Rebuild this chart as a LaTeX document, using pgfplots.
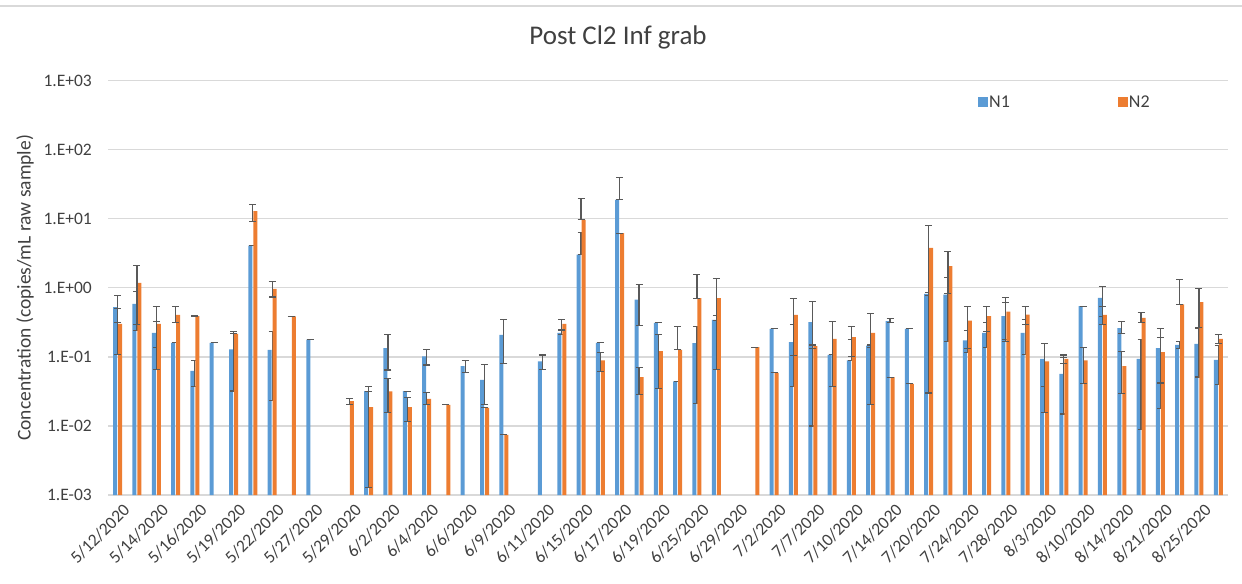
\documentclass[border=0pt]{standalone}
\usepackage{pgfplots}
\usepackage{pgfplotstable}
\usepackage{fontspec}
\setmainfont{Carlito}
\pgfplotsset{compat=1.18}
\definecolor{nblue}{RGB}{91,155,213}
\definecolor{norange}{RGB}{237,125,49}
\definecolor{errgray}{RGB}{89,89,89}
\definecolor{gridgray}{RGB}{217,217,217}
\definecolor{txtgray}{RGB}{64,64,64}
\pgfplotstableread{
x  n1     n1p    n1m    n2      n2p    n2m
0  0.525  0.25   0.21   0.301   0.196  0.193
1  0.586  0.31   0.345  1.181   0.925  0.887
2  0.223  0.103  0.085  0.301   0.242  0.236
3  0.160  0      0      0.406   0.137  0.095
4  0.0629 0.025  0.026  0.389   0.005  0.005
5  0.160  0      0      nan     0      0
6  0.128  0.105  0.096  0.216   0      0
7  4.10   0      0      12.88   3.2    3.65
8  0.1265 0.106  0.103  0.967   0.27   0.23
9  nan    0      0      0.385   0      0
10 0.1786 0      0      nan     0      0
11 nan    0      0      nan     0      0
12 nan    0      0      0.0229  0.002  0.0024
13 0.0319 0      0      0.0187  0.0186 0.0174
14 0.1337 0.075  0.069  0.0316  0.0165 0.0158
15 0.0319 0      0      0.0187  0.0074 0.0071
16 0.1014 0.025  0.025  0.0247  0.006  0.004
17 nan    0      0      0.0202  0      0
18 0.0734 0.0143 0.014  nan     0      0
19 0.0466 0.030  0.026  0.0183  0      0
20 0.209  0.139  0.128  0.00744 0      0
21 nan    0      0      nan     0      0
22 0.0858 0.021  0.020  nan     0      0
23 0.223  0.018  0.014  0.301   0.043  0.055
24 3.04   3.21   0      9.65    10.2   0
25 0.160  0      0      0.0887  0.028  0.027
26 18.8   21.2   0      6.19    0      0
27 0.678  0.427  0.393  0.0509  0.020  0.022
28 0.311  0      0      0.121   0.088  0.086
29 0.0441 0      0      0.1265  0.152  0
30 0.158  0.121  0.137  0.708   0.85   0
31 0.344  0.053  0.008  0.708   0.64   0.643
32 nan    0      0      nan     0      0
33 nan    0      0      0.138   0      0
34 0.255  0      0      0.0588  0      0
35 0.163  0.131  0.126  0.406   0.30   0.30
36 0.318  0.316  0.308  0.143   0.006  0.009
37 0.107  0      0      0.183   0.143  0.146
38 0.0887 0.09   0      0.193   0.086  0.091
39 0.146  0.003  0.008  0.223   0.198  0.2025
40 0.329  0.035  0.018  0.0509  0      0
41 0.255  0      0      0.0407  0      0
42 0.819  0.046  0.045  3.80    4.19   3.77
43 0.801  0.626  0.632  2.06    1.30   1.24
44 0.173  0.068  0.058  0.336   0.207  0.202
45 0.223  0.088  0.085  0.389   0.154  0.156
46 0.389  0.218  0.21   0.454   0.279  0.285
47 0.223  0.125  0.115  0.411   0.132  0.117
48 0.0938 0.061  0.0565 0.0858  0.069  0.070
49 0.0569 0.040  0.042  0.0938  0.013  0.0144
50 0.543  0      0      0.0887  0.049  0.047
51 0.717  0.328  0.332  0.406   0.137  0.112
52 0.261  0.065  0.045  0.0734  0.046  0.044
53 0.0938 0.085  0.085  0.368   0.076  0.05
54 0.1337 0.121  0.116  0.117   0.072  0.075
55 0.1496 0.019  0.019  0.574   0.73   0
56 0.155  0.106  0.104  0.620   0.347  0.35
57 0.0907 0.055  0.051  0.183   0.026  0.028
}\data
\begin{document}
\begin{tikzpicture}
\useasboundingbox (0,0) rectangle (1242bp,584bp);
\draw[gridgray, line width=1.2bp] (0,578bp) -- (1242bp,578bp);
\begin{axis}[
  at={(108bp,89bp)}, anchor=south west,
  scale only axis, width=1120bp, height=414.3bp,
  ymode=log, log origin=infty,
  ymin=1e-3, ymax=1e3,
  xmin=-0.5, xmax=57.5,
  axis lines*=left,
  x axis line style={draw=gridgray, line width=1.2bp},
  y axis line style={draw=none},
  major tick length=0pt, minor tick length=0pt,
  yminorticks=false, xminorticks=false,
  ymajorgrids, grid style={gridgray, line width=1.2bp},
  ytick={1e-3,1e-2,1e-1,1,1e1,1e2,1e3},
  yticklabels={1.E-03,1.E-02,1.E-01,1.E+00,1.E+01,1.E+02,1.E+03},
  yticklabel style={font=\fontsize{17.5bp}{20bp}\selectfont, text=txtgray, anchor=east, inner sep=0pt, xshift=-16bp},
  xtick={0,2,...,56},
  xticklabels={5/12/2020,5/14/2020,5/16/2020,5/19/2020,5/22/2020,5/27/2020,5/29/2020,6/2/2020,6/4/2020,6/6/2020,6/9/2020,6/11/2020,6/15/2020,6/17/2020,6/19/2020,6/25/2020,6/29/2020,7/2/2020,7/7/2020,7/10/2020,7/14/2020,7/20/2020,7/24/2020,7/28/2020,8/3/2020,8/10/2020,8/14/2020,8/21/2020,8/25/2020},
  xticklabel style={font=\fontsize{17.5bp}{20bp}\selectfont, text=txtgray, rotate=45, anchor=east, inner sep=0pt, yshift=-15bp, xshift=-2bp},
  ylabel={Concentration (copies/mL raw sample)},
  ylabel style={font=\fontsize{19.5bp}{22bp}\selectfont, text=txtgray, at={(axis description cs:-0.0741,0.5)}, anchor=center, rotate=0},
  title={Post Cl2 Inf grab},
  title style={font=\fontsize{27bp}{30bp}\selectfont, text=txtgray, at={(axis description cs:0.4554,1)}, anchor=base, yshift=30.5bp},
  legend columns=2,
  legend style={at={(axis description cs:0.7768,0.9474)}, anchor=west, draw=none, fill=none, inner sep=0pt,
    font=\fontsize{18bp}{20bp}\selectfont, text=txtgray,
    nodes={inner sep=1bp},
    /tikz/every even column/.append style={column sep=107bp}},
  error bars/error bar style={errgray, line width=1.2bp},
  error bars/error mark options={errgray, line width=1.2bp, mark size=3.5bp, rotate=90},
]
\addplot[ybar, bar width=4bp, bar shift=-2.5bp, fill=nblue, draw=none,
  legend image code/.code={\fill[nblue] (0bp,-5bp) rectangle (10bp,5bp);},
  error bars/.cd, y dir=both, y explicit]
  table[x=x, y=n1, y error plus=n1p, y error minus=n1m] {\data};
\addlegendentry{N1}
\addplot[ybar, bar width=4bp, bar shift=2.5bp, fill=norange, draw=none,
  legend image code/.code={\fill[norange] (0bp,-5bp) rectangle (10bp,5bp);},
  error bars/.cd, y dir=both, y explicit]
  table[x=x, y=n2, y error plus=n2p, y error minus=n2m] {\data};
\addlegendentry{N2}
\end{axis}
\end{tikzpicture}
\end{document}
